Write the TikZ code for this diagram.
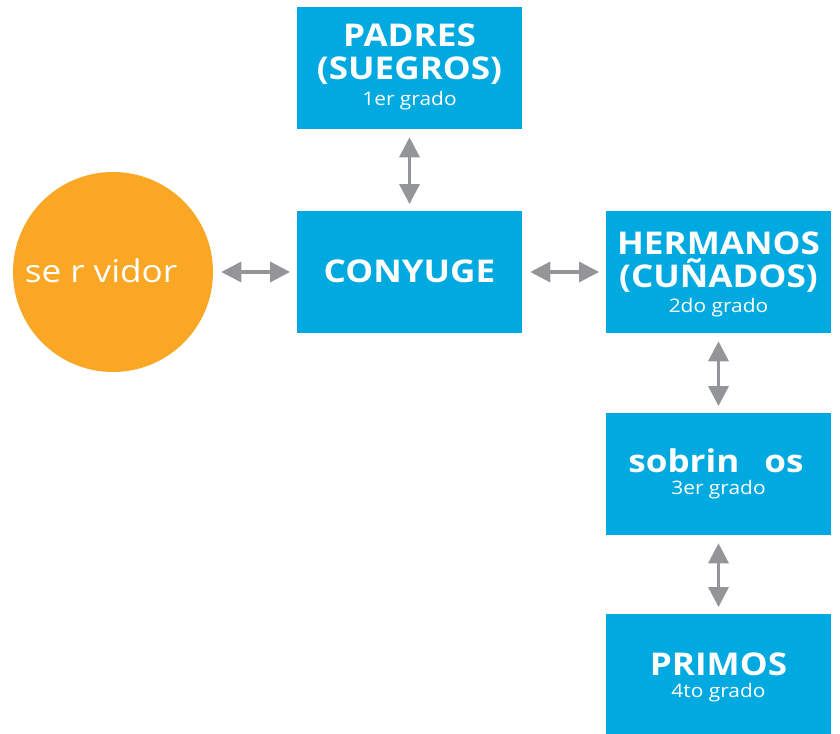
\documentclass[tikz,border=0pt]{standalone}
\usepackage{fontspec}
\setmainfont{Open Sans}[FakeStretch=1.12]
\usetikzlibrary{arrows.meta}
\definecolor{boxblue}{RGB}{0,169,224}
\definecolor{srvorange}{RGB}{249,167,37}
\definecolor{arrgray}{RGB}{147,149,152}
\tikzset{
  box/.style={fill=boxblue, draw=none, inner sep=0pt, minimum width=168.75pt, minimum height=91.5pt},
  ttl/.style={text=white, anchor=base, inner sep=0pt, font=\bfseries\fontsize{23.5}{25}\selectfont},
  sub/.style={text=white, anchor=base, inner sep=0pt, font=\fontsize{14}{15}\selectfont},
  srvtext/.style={text=white, anchor=base, inner sep=0pt, font=\fontsize{23.5}{28}\selectfont},
  conn/.style={draw=arrgray, line width=2.4pt,
    {Triangle[length=15pt,width=15pt]}-{Triangle[length=15pt,width=15pt]},
    shorten <=6pt, shorten >=5pt}
}
\begin{document}
\begin{tikzpicture}[x=0.75pt,y=-0.75pt]
\useasboundingbox (0,0) rectangle (840,734);
% shapes
\node[circle, fill=srvorange, draw=none, minimum size=150pt, inner sep=0pt] (srv) at (113,272) {};
\node[box] (pad) at (409.5,68) {};
\node[box] (cony) at (409.5,272) {};
\node[box] (herm) at (718.5,272) {};
\node[box] (sob) at (718.5,474) {};
\node[box, minimum height=90pt] (prim) at (718.5,674) {};
% texts
\node[srvtext] (tsrv) at (101,283) {se r vidor};
\node[ttl] (tpad1) at (409.5,47) {PADRES};
\node[ttl] (tpad2) at (409.5,80) {(SUEGROS)};
\node[sub] (tpad3) at (409.5,106) {1er grado};
\node[ttl] (tcony) at (409.5,283) {CONYUGE};
\node[ttl] (therm1) at (718.5,255) {HERMANOS};
\node[ttl] (therm2) at (718.5,288) {(CUÑADOS)};
\node[sub] (therm3) at (718.5,313) {2do grado};
\node[ttl] (tsob1) at (716,473) {sobrin\hspace{0.8em}os};
\node[sub] (tsob2) at (718.5,495) {3er grado};
\node[ttl] (tprim1) at (718.5,675) {PRIMOS};
\node[sub] (tprim2) at (718.5,697) {4to grado};
% connectors
\draw[conn] (srv) -- (cony);
\draw[conn] (cony) -- (herm);
\draw[conn] (pad) -- (cony);
\draw[conn] (herm) -- (sob);
\draw[conn] (sob) -- (prim);
\end{tikzpicture}
\end{document}
